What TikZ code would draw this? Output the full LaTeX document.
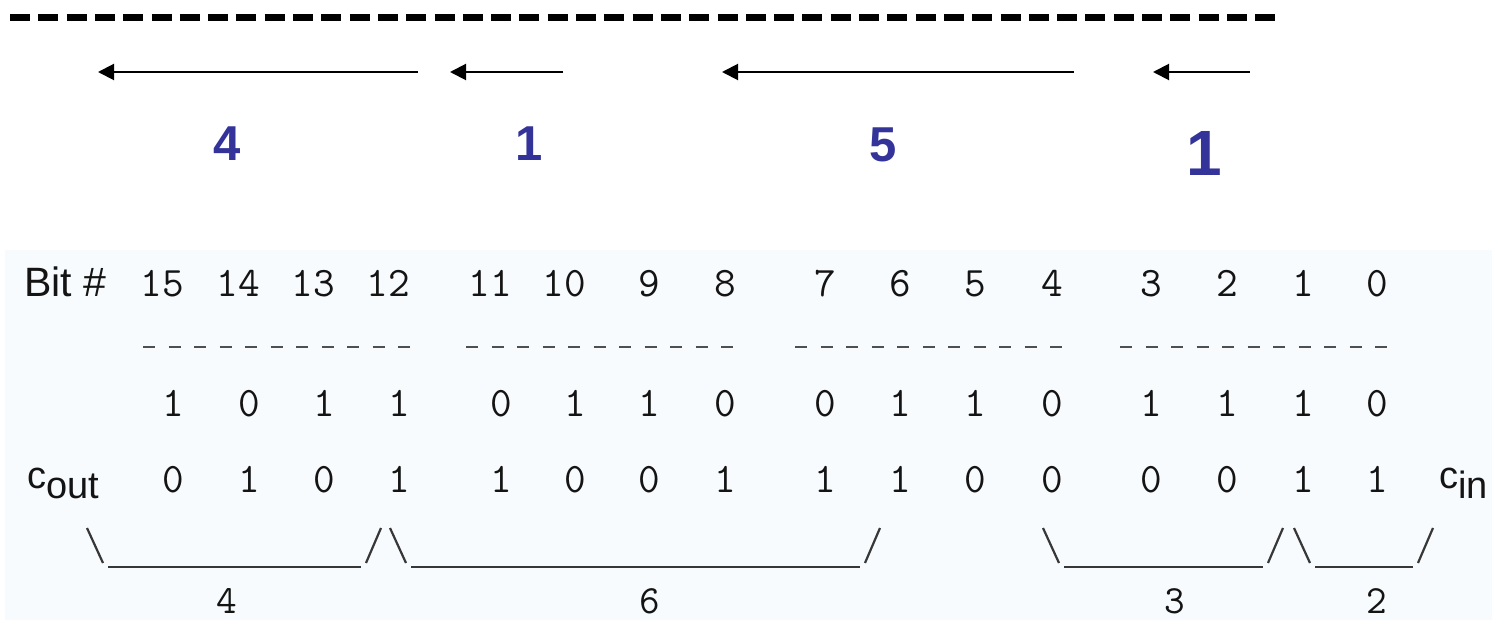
\documentclass[tikz,border=0pt]{standalone}
\usepackage{fontspec}
\newfontfamily\arial{Liberation Sans}
\usetikzlibrary{arrows.meta}
\definecolor{numblue}{RGB}{51,51,153}
\definecolor{panel}{RGB}{248,251,253}
\definecolor{ink}{RGB}{20,20,20}
\begin{document}
\begin{tikzpicture}[x=1pt,y=-1pt,
  bluenum/.style={text=numblue,font=\arial\bfseries\fontsize{49}{55}\selectfont,inner sep=0,anchor=base},
  bignum/.style={text=numblue,font=\arial\bfseries\fontsize{64}{70}\selectfont,inner sep=0,anchor=base},
  bitnum/.style={text=ink,font=\ttfamily\fontsize{42}{48}\selectfont,inner sep=0,anchor=base east},
  grpnum/.style={text=ink,font=\ttfamily\fontsize{40}{46}\selectfont,inner sep=0,text depth=0pt,anchor=base},
  sanslabel/.style={text=ink,font=\arial\fontsize{41}{46}\selectfont,inner sep=0,anchor=base west},
  larrow/.style={draw=black,line width=2pt,-{Triangle[length=16pt,width=16pt]}},
  bracepart/.style={draw=ink!85,line width=2.2pt},
  seprow/.style={draw=ink!75,line width=2pt,dash pattern=on 12pt off 13.5pt}
]
\useasboundingbox (0,0) rectangle (1492,620);
% lower panel
\fill[panel] (5,250) rectangle (1492,620);
% top dashed line
\coordinate (dl) at (10,17.5);
\coordinate (dr) at (1275,17.5);
\draw[line width=7pt,dash pattern=on 20pt off 8.3pt] (dl) -- (dr);
% arrows
\coordinate (a1s) at (418,72); \coordinate (a1e) at (98,72);
\coordinate (a2s) at (563,72); \coordinate (a2e) at (450,72);
\coordinate (a3s) at (1074,72); \coordinate (a3e) at (722,72);
\coordinate (a4s) at (1250,72); \coordinate (a4e) at (1153,72);
\draw[larrow] (a1s) -- (a1e);
\draw[larrow] (a2s) -- (a2e);
\draw[larrow] (a3s) -- (a3e);
\draw[larrow] (a4s) -- (a4e);
% blue numbers
\node[bluenum] (n4) at (227,161) {4};
\node[bluenum] (n1a) at (529,161) {1};
\node[bluenum] (n5) at (883,162) {5};
\node[bignum] (n1b) at (1204,176) {1};
% labels
\node[sanslabel] (bitlabel) at (24,297) {Bit \#};
\node[text=ink,font=\arial\fontsize{38}{42}\selectfont,inner sep=0,anchor=base west] (cout) at (27,488) {c\raisebox{-10pt}{\fontsize{38}{42}\selectfont out}};
\node[text=ink,font=\arial\fontsize{38}{42}\selectfont,inner sep=0,anchor=base west] (cin) at (1439,488) {c\raisebox{-10pt}{\fontsize{38}{42}\selectfont in}};
% columns
\foreach \x/\b/\s/\c in {
  173/15/1/0, 249/14/0/1, 324/13/1/0, 399/12/1/1,
  501/11/0/1, 575/10/1/0, 649/9/1/0, 725/8/0/1,
  825/7/0/1, 900/6/1/1, 975/5/1/0, 1052/4/0/0,
  1151/3/1/0, 1227/2/1/0, 1303/1/1/1, 1377/0/0/1}{
  \node[bitnum] (b\b) at (\x+11,297) {\b};
  \node[bitnum] (s\b) at (\x+11,417) {\s};
  \node[bitnum] (c\b) at (\x+11,492) {\c};
}
% separator dashes
\foreach \st [count=\k] in {143,466,795,1120}{
  \coordinate (sepL\k) at (\st,347);
  \coordinate (sepR\k) at (\st+267,347);
  \draw[seprow] (sepL\k) -- (sepR\k);
}
% braces
\foreach \l/\r [count=\k] in {87/381, 390/880, 1043/1283, 1294/1433}{
  \coordinate (bA\k) at (\l,528);
  \coordinate (bB\k) at (\l+16,563);
  \coordinate (bC\k) at (\l+21,567);
  \coordinate (bD\k) at (\r-20,567);
  \coordinate (bE\k) at (\r-15,563);
  \coordinate (bF\k) at (\r,528);
  \draw[bracepart] (bA\k) -- (bB\k);
  \draw[bracepart] (bC\k) -- (bD\k);
  \draw[bracepart] (bE\k) -- (bF\k);
}
% group sizes
\node[grpnum] (g4) at (227,613) {4};
\node[grpnum] (g6) at (650,613) {6};
\node[grpnum] (g3) at (1175,613) {3};
\node[grpnum] (g2) at (1377,613) {2};
\end{tikzpicture}
\end{document}
